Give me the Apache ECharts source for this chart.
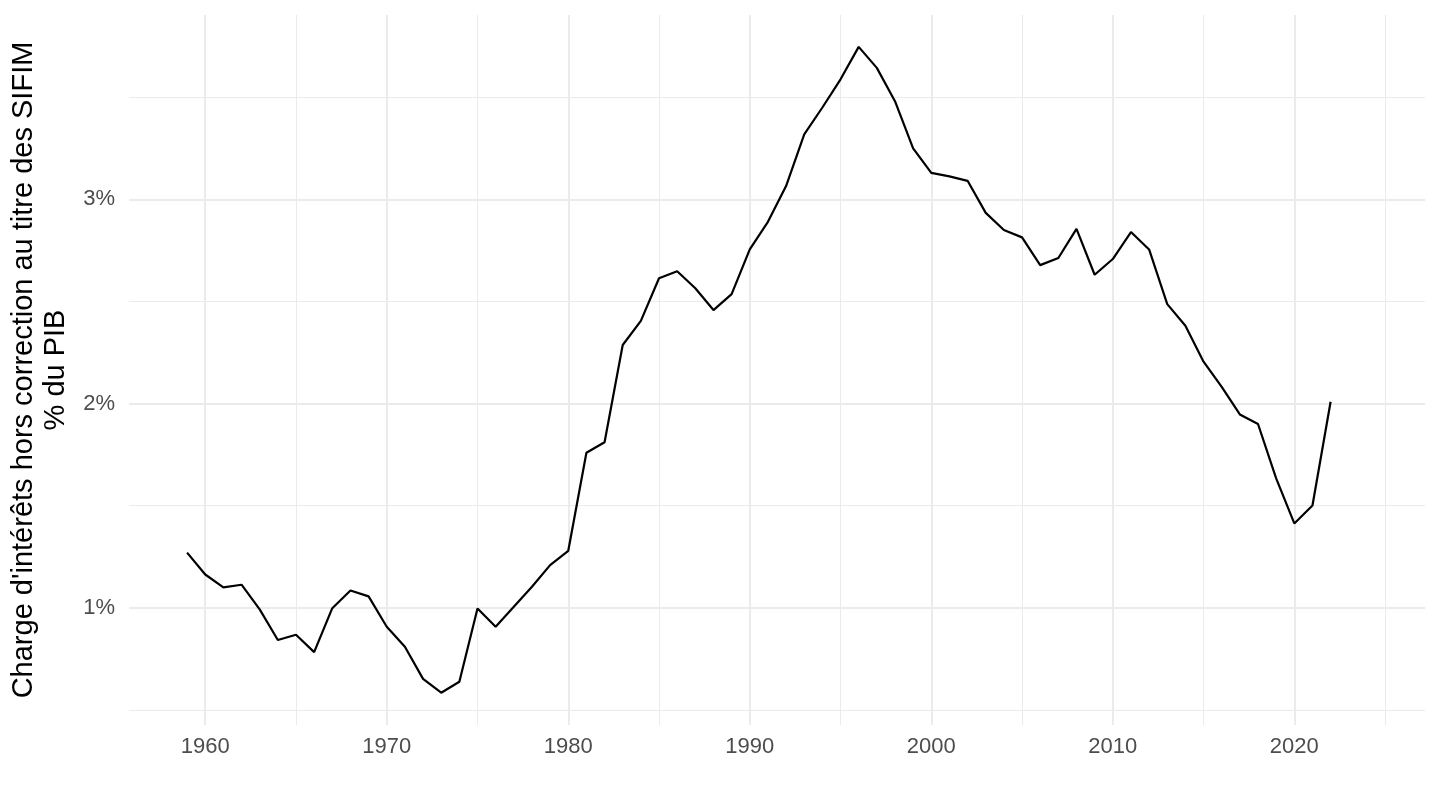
<!DOCTYPE html>
<html>
<head>
<meta charset="utf-8">
<title>Charge d'intérêts hors correction au titre des SIFIM</title>
<script src="https://cdn.jsdelivr.net/npm/echarts@6/dist/echarts.min.js"></script>
<style>
  html, body { margin: 0; padding: 0; background: #fff; }
  #chart { width: 1440px; height: 810px; }
</style>
</head>
<body>
<div id="chart"></div>
<script>
// années et valeurs (% du PIB)
var years = [
  1959, 1960, 1961, 1962, 1963, 1964, 1965, 1966, 1967, 1968,
  1969, 1970, 1971, 1972, 1973, 1974, 1975, 1976, 1977, 1978,
  1979, 1980, 1981, 1982, 1983, 1984, 1985, 1986, 1987, 1988,
  1989, 1990, 1991, 1992, 1993, 1994, 1995, 1996, 1997, 1998,
  1999, 2000, 2001, 2002, 2003, 2004, 2005, 2006, 2007, 2008,
  2009, 2010, 2011, 2012, 2013, 2014, 2015, 2016, 2017, 2018,
  2019, 2020, 2021, 2022
];
var chargeInterets = [
  1.270, 1.163, 1.100, 1.113, 0.992, 0.842, 0.868, 0.783, 0.998, 1.085,
  1.056, 0.907, 0.809, 0.652, 0.584, 0.638, 0.997, 0.907, 1.005, 1.103,
  1.209, 1.279, 1.759, 1.811, 2.287, 2.405, 2.614, 2.648, 2.565, 2.458,
  2.536, 2.755, 2.890, 3.065, 3.318, 3.450, 3.588, 3.747, 3.644, 3.481,
  3.250, 3.130, 3.113, 3.091, 2.934, 2.850, 2.814, 2.678, 2.713, 2.856,
  2.631, 2.708, 2.840, 2.755, 2.487, 2.381, 2.205, 2.082, 1.947, 1.900,
  1.634, 1.413, 1.501, 2.009
];

// graduations
var xMajor = [1960, 1970, 1980, 1990, 2000, 2010, 2020];
var xMinor = [1965, 1975, 1985, 1995, 2005, 2015, 2025];
var yMajor = [1, 2, 3];
var yMinor = [0.5, 1.5, 2.5, 3.5];

var gridColor = '#ebebeb';

var gridLines = [];
xMajor.forEach(function (v) { gridLines.push({ xAxis: v, lineStyle: { width: 2 } }); });
xMinor.forEach(function (v) { gridLines.push({ xAxis: v, lineStyle: { width: 1 } }); });
yMajor.forEach(function (v) { gridLines.push({ yAxis: v, lineStyle: { width: 2 } }); });
yMinor.forEach(function (v) { gridLines.push({ yAxis: v, lineStyle: { width: 1 } }); });

var chart = echarts.init(document.getElementById('chart'));
chart.setOption({
  animation: false,
  backgroundColor: '#ffffff',
  textStyle: { fontFamily: 'Liberation Sans, Arial, sans-serif' },
  grid: { left: 129, right: 15, top: 15, bottom: 85, containLabel: false },
  xAxis: {
    type: 'value',
    min: 1955.8,
    max: 2027.2,
    axisLine: { show: false },
    axisTick: { show: false },
    splitLine: { show: false },
    axisLabel: {
      customValues: xMajor,
      color: '#4d4d4d',
      fontSize: 22,
      margin: 11,
      formatter: function (v) { return String(v); }
    }
  },
  yAxis: {
    type: 'value',
    min: 0.426,
    max: 3.903,
    name: "Charge d'intérêts hors correction au titre des SIFIM\n% du PIB",
    nameLocation: 'middle',
    nameRotate: 90,
    nameGap: 54,
    nameTextStyle: {
      color: '#000000',
      fontSize: 29,
      lineHeight: 32,
      align: 'center'
    },
    axisLine: { show: false },
    axisTick: { show: false },
    splitLine: { show: false },
    axisLabel: {
      customValues: yMajor,
      color: '#4d4d4d',
      fontSize: 22,
      margin: 14,
      formatter: function (v) { return v + '%'; }
    }
  },
  series: [
    {
      type: 'line',
      data: [],
      silent: true,
      z: 1,
      markLine: {
        silent: true,
        z: 1,
        symbol: 'none',
        label: { show: false },
        emphasis: { disabled: true },
        lineStyle: { color: gridColor, type: 'solid' },
        data: gridLines
      }
    },
    {
      name: 'Charge d\'intérêts',
      type: 'line',
      z: 10,
      showSymbol: false,
      data: years.map(function (y, i) { return [y, chargeInterets[i]]; }),
      lineStyle: { color: '#000000', width: 2.2 }
    }
  ]
});
</script>
</body>
</html>
